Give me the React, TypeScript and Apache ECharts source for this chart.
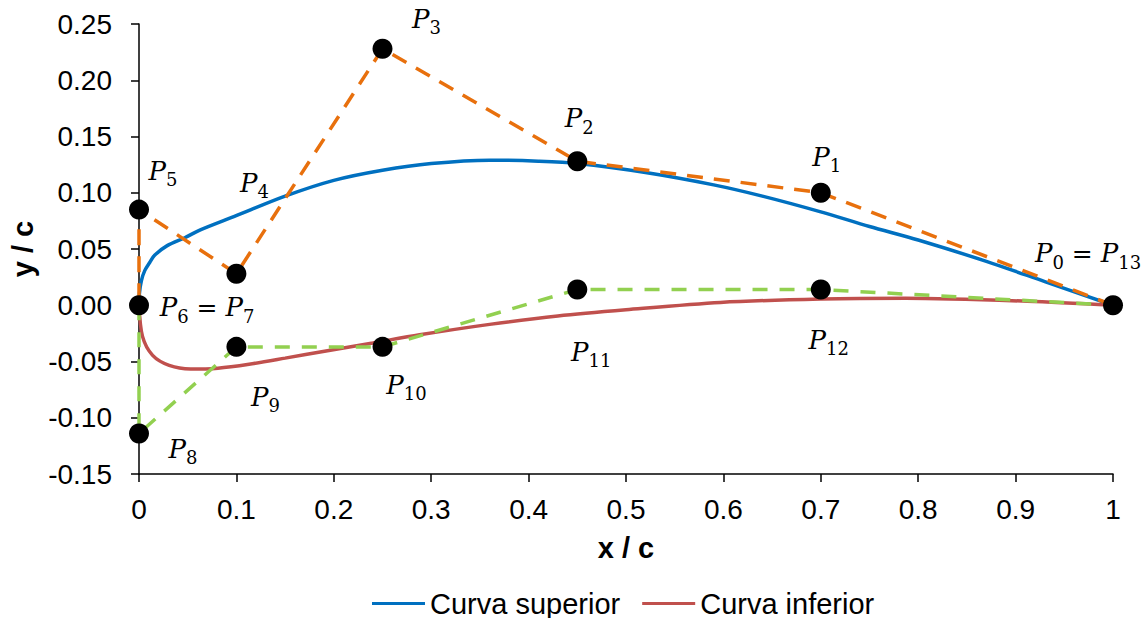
import React, { useEffect, useRef } from "react";
import * as echarts from "echarts";

// Control polygon (upper: P0..P7, lower: P7..P13)
const upperCtrlX = [1, 0.7, 0.45, 0.25, 0.1, 0, 0, 0];
const upperCtrlY = [0, 0.1, 0.128, 0.228, 0.028, 0.085, 0, 0];
const lowerCtrlX = [0, 0, 0.1, 0.25, 0.45, 0.7, 1];
const lowerCtrlY = [0, -0.114, -0.037, -0.037, 0.014, 0.014, 0];

// Points shown with labels
const pointX = [1, 0.7, 0.45, 0.25, 0.1, 0, 0, 0, 0.1, 0.25, 0.45, 0.7];
const pointY = [0, 0.1, 0.128, 0.228, 0.028, 0.085, 0, -0.114, -0.037, -0.037, 0.014, 0.014];
const pointNames = [
  "P_0 = P_13", "P_1", "P_2", "P_3", "P_4", "P_5", "P_6 = P_7",
  "P_8", "P_9", "P_10", "P_11", "P_12",
];

// Curves
const upperCurveX = [0, 0.0005, 0.0025, 0.006, 0.011, 0.016, 0.029, 0.047, 0.063, 0.098, 0.15, 0.2, 0.25, 0.3, 0.36, 0.41, 0.45, 0.52, 0.59, 0.64, 0.7, 0.75, 0.8, 0.87, 0.93, 1];
const upperCurveY = [0, 0.011, 0.022, 0.031, 0.038, 0.0445, 0.053, 0.06, 0.067, 0.079, 0.097, 0.111, 0.12, 0.126, 0.129, 0.128, 0.126, 0.118, 0.107, 0.097, 0.083, 0.07, 0.058, 0.039, 0.021, 0];
const lowerCurveX = [0, 0.0036, 0.014, 0.031, 0.053, 0.081, 0.113, 0.15, 0.192, 0.24, 0.288, 0.36, 0.43, 0.5, 0.597, 0.7, 0.787, 0.912, 1];
const lowerCurveY = [0, -0.0277, -0.0446, -0.0535, -0.0567, -0.0559, -0.0524, -0.047, -0.0406, -0.0335, -0.0263, -0.017, -0.0095, -0.004, 0.0025, 0.0055, 0.0062, 0.0036, 0];

const seriesNames = ["Curva superior", "Curva inferior"];
const xTitle = "x / c";
const yTitle = "y / c";

const labelOffsets: Record<string, number[]> = {
  "P_0 = P_13": [-25, -52],
  "P_1": [6, -36],
  "P_2": [2, -43],
  "P_3": [44, -30],
  "P_4": [18, -91],
  "P_5": [24, -39],
  "P_6 = P_7": [68, 2],
  "P_8": [44, 15],
  "P_9": [29, 50],
  "P_10": [24, 38],
  "P_11": [14, 62],
  "P_12": [8, 50],
};

function toRich(name: string) {
  return name
    .split(" ")
    .map((part) => {
      if (part === "=") return "{e| = }";
      const m = part.match(/^P_(\d+)$/);
      if (m) return "{p|P}{s|" + m[1] + "}";
      return part;
    })
    .join("");
}

const zip = (xs: number[], ys: number[]) => xs.map((x, i) => [x, ys[i]]);

export default function App() {
  const ref = useRef<HTMLDivElement>(null);
  useEffect(() => {
    if (!ref.current) return;
    const chart = echarts.init(ref.current, undefined, { renderer: "svg" });
    const sans = "Liberation Sans, Arial, sans-serif";
    const serif = "DejaVu Serif, serif";
    chart.setOption({
      animation: false,
      backgroundColor: "#fff",
      grid: { left: 139, right: 33, top: 24, bottom: 144 },
      legend: {
        data: seriesNames.map((n) => ({ name: n, icon: "rect" })),
        top: 584,
        left: 367,
        itemWidth: 53,
        itemHeight: 3,
        itemGap: 22,
        textStyle: { fontFamily: sans, fontSize: 29, color: "#000" },
      },
      xAxis: {
        type: "value",
        min: 0,
        max: 1,
        interval: 0.1,
        name: xTitle,
        nameLocation: "middle",
        nameGap: 59,
        nameTextStyle: { fontFamily: sans, fontSize: 29, fontWeight: "bold", color: "#000" },
        axisLine: { onZero: false, lineStyle: { color: "#000", width: 1.5 } },
        axisTick: { show: true, length: 8, lineStyle: { color: "#000", width: 1.5 } },
        splitLine: { show: false },
        axisLabel: {
          fontFamily: sans,
          fontSize: 28,
          color: "#000",
          margin: 21,
          formatter: (v: number) => String(Number(v.toFixed(1))),
        },
      },
      yAxis: {
        type: "value",
        min: -0.15,
        max: 0.25,
        interval: 0.05,
        name: yTitle,
        nameLocation: "middle",
        nameGap: 97,
        nameTextStyle: { fontFamily: sans, fontSize: 29, fontWeight: "bold", color: "#000" },
        axisLine: { onZero: false, lineStyle: { color: "#000", width: 1.5 } },
        axisTick: { show: true, length: 8, lineStyle: { color: "#000", width: 1.5 } },
        splitLine: { show: false },
        axisLabel: {
          fontFamily: sans,
          fontSize: 28,
          color: "#000",
          margin: 27,
          formatter: (v: number) => v.toFixed(2),
        },
      },
      series: [
        {
          name: seriesNames[0],
          type: "line",
          data: zip(upperCurveX, upperCurveY),
          smooth: 0.3,
          showSymbol: false,
          symbol: "none",
          color: "#0070C0",
          lineStyle: { color: "#0070C0", width: 3.5 },
          z: 2,
        },
        {
          name: seriesNames[1],
          type: "line",
          data: zip(lowerCurveX, lowerCurveY),
          smooth: 0.3,
          showSymbol: false,
          symbol: "none",
          color: "#C0504D",
          lineStyle: { color: "#C0504D", width: 3.5 },
          z: 2,
        },
        {
          name: "upperPolygon",
          type: "line",
          data: zip(upperCtrlX, upperCtrlY),
          symbol: "none",
          lineStyle: { color: "#E8700D", width: 3.5, type: [16, 11] },
          z: 3,
        },
        {
          name: "lowerPolygon",
          type: "line",
          data: zip(lowerCtrlX, lowerCtrlY),
          symbol: "none",
          lineStyle: { color: "#92D050", width: 3.5, type: [15, 12] },
          z: 3,
        },
        {
          name: "points",
          type: "scatter",
          symbol: "circle",
          symbolSize: 20,
          itemStyle: { color: "#000", opacity: 1 },
          z: 5,
          data: pointX.map((x, i) => ({
            value: [x, pointY[i]],
            label: {
              show: true,
              position: "inside",
              offset: labelOffsets[pointNames[i]] || [0, 0],
              formatter: toRich(pointNames[i]),
              rich: {
                p: { fontFamily: serif, fontStyle: "italic", fontSize: 26, color: "#000", lineHeight: 36, verticalAlign: "middle" },
                s: { fontFamily: serif, fontSize: 18, color: "#000", lineHeight: 15, verticalAlign: "bottom" },
                e: { fontFamily: serif, fontSize: 25, color: "#000", lineHeight: 36, verticalAlign: "middle" },
              },
            },
          })),
        },
      ],
    });
    return () => chart.dispose();
  }, []);
  return (
    <div
      ref={ref}
      style={{ position: "fixed", left: 0, top: 0, width: 1146, height: 618, background: "#fff" }}
    />
  );
}
